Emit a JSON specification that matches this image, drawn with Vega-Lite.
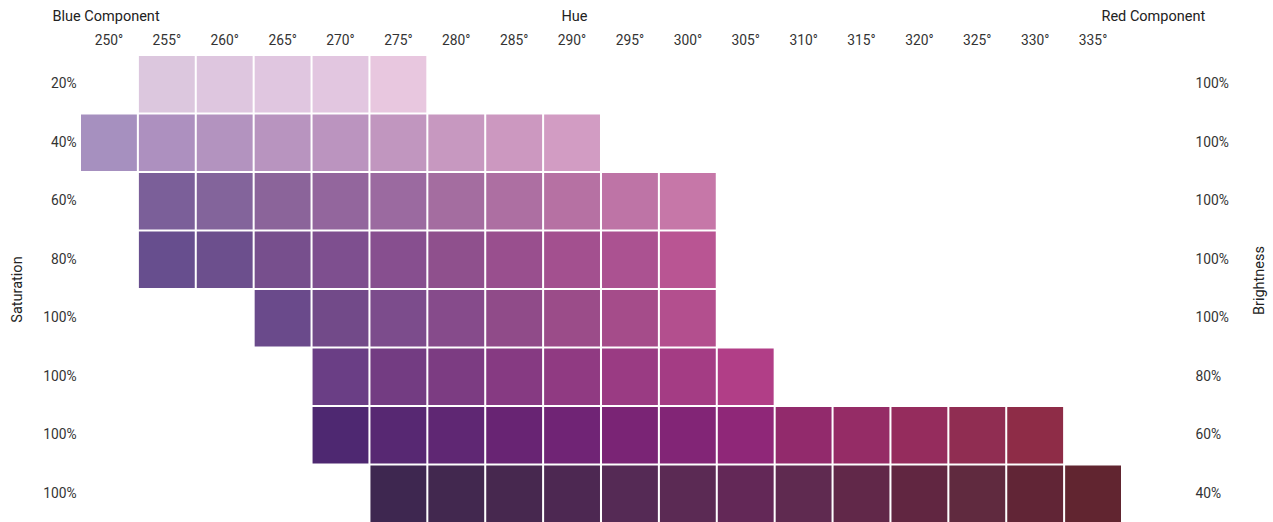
{
  "$schema": "https://vega.github.io/schema/vega-lite/v6.json",
  "width": 1040,
  "height": 466,
  "autosize": {"type": "none"},
  "padding": {"left": 81, "top": 56, "right": 152, "bottom": 0},
  "background": "white",
  "config": {
    "font": "Roboto",
    "view": {"stroke": null},
    "axis": {
      "ticks": false, "domain": false, "grid": false,
      "labelFont": "Roboto", "labelFontSize": 13.8, "labelColor": "#333333",
      "titleFont": "Roboto", "titleFontSize": 14.5, "titleFontWeight": "normal", "titleColor": "#222222"
    }
  },
  "data": {"values": [
    {"hue": 255, "row": "20% / 100%", "color": "#dcc7de"},
    {"hue": 260, "row": "20% / 100%", "color": "#dec6df"},
    {"hue": 265, "row": "20% / 100%", "color": "#e0c6e0"},
    {"hue": 270, "row": "20% / 100%", "color": "#e2c6e0"},
    {"hue": 275, "row": "20% / 100%", "color": "#e8c7df"},

    {"hue": 250, "row": "40% / 100%", "color": "#a690bf"},
    {"hue": 255, "row": "40% / 100%", "color": "#ad90bf"},
    {"hue": 260, "row": "40% / 100%", "color": "#b393bf"},
    {"hue": 265, "row": "40% / 100%", "color": "#b894bf"},
    {"hue": 270, "row": "40% / 100%", "color": "#bb94bf"},
    {"hue": 275, "row": "40% / 100%", "color": "#c196bf"},
    {"hue": 280, "row": "40% / 100%", "color": "#c798c0"},
    {"hue": 285, "row": "40% / 100%", "color": "#cc98c0"},
    {"hue": 290, "row": "40% / 100%", "color": "#d29cc3"},

    {"hue": 255, "row": "60% / 100%", "color": "#7b5f99"},
    {"hue": 260, "row": "60% / 100%", "color": "#83649b"},
    {"hue": 265, "row": "60% / 100%", "color": "#8b649a"},
    {"hue": 270, "row": "60% / 100%", "color": "#93669d"},
    {"hue": 275, "row": "60% / 100%", "color": "#9b6aa0"},
    {"hue": 280, "row": "60% / 100%", "color": "#a46da0"},
    {"hue": 285, "row": "60% / 100%", "color": "#ad6fa2"},
    {"hue": 290, "row": "60% / 100%", "color": "#b671a3"},
    {"hue": 295, "row": "60% / 100%", "color": "#be74a6"},
    {"hue": 300, "row": "60% / 100%", "color": "#c677a8"},

    {"hue": 255, "row": "80% / 100%", "color": "#674e8e"},
    {"hue": 260, "row": "80% / 100%", "color": "#6c4f8d"},
    {"hue": 265, "row": "80% / 100%", "color": "#774f8d"},
    {"hue": 270, "row": "80% / 100%", "color": "#7e4f8f"},
    {"hue": 275, "row": "80% / 100%", "color": "#874f8f"},
    {"hue": 280, "row": "80% / 100%", "color": "#8f508d"},
    {"hue": 285, "row": "80% / 100%", "color": "#994f8e"},
    {"hue": 290, "row": "80% / 100%", "color": "#a3508f"},
    {"hue": 295, "row": "80% / 100%", "color": "#ab5291"},
    {"hue": 300, "row": "80% / 100%", "color": "#b95593"},

    {"hue": 265, "row": "100% / 100%", "color": "#6a4a8b"},
    {"hue": 270, "row": "100% / 100%", "color": "#724a89"},
    {"hue": 275, "row": "100% / 100%", "color": "#7c4c8c"},
    {"hue": 280, "row": "100% / 100%", "color": "#864b8b"},
    {"hue": 285, "row": "100% / 100%", "color": "#904b89"},
    {"hue": 290, "row": "100% / 100%", "color": "#9b4c89"},
    {"hue": 295, "row": "100% / 100%", "color": "#a54c8a"},
    {"hue": 300, "row": "100% / 100%", "color": "#b34f8e"},

    {"hue": 270, "row": "100% / 80%", "color": "#6a3e85"},
    {"hue": 275, "row": "100% / 80%", "color": "#733c82"},
    {"hue": 280, "row": "100% / 80%", "color": "#7c3c82"},
    {"hue": 285, "row": "100% / 80%", "color": "#863a82"},
    {"hue": 290, "row": "100% / 80%", "color": "#903a82"},
    {"hue": 295, "row": "100% / 80%", "color": "#9a3b83"},
    {"hue": 300, "row": "100% / 80%", "color": "#a43c84"},
    {"hue": 305, "row": "100% / 80%", "color": "#b13e87"},

    {"hue": 270, "row": "100% / 60%", "color": "#4e2871"},
    {"hue": 275, "row": "100% / 60%", "color": "#572872"},
    {"hue": 280, "row": "100% / 60%", "color": "#5f2773"},
    {"hue": 285, "row": "100% / 60%", "color": "#682473"},
    {"hue": 290, "row": "100% / 60%", "color": "#702475"},
    {"hue": 295, "row": "100% / 60%", "color": "#7a2475"},
    {"hue": 300, "row": "100% / 60%", "color": "#822576"},
    {"hue": 305, "row": "100% / 60%", "color": "#8f2778"},
    {"hue": 310, "row": "100% / 60%", "color": "#922a6c"},
    {"hue": 315, "row": "100% / 60%", "color": "#952c66"},
    {"hue": 320, "row": "100% / 60%", "color": "#952c5d"},
    {"hue": 325, "row": "100% / 60%", "color": "#902d52"},
    {"hue": 330, "row": "100% / 60%", "color": "#8e2c47"},

    {"hue": 275, "row": "100% / 40%", "color": "#3e2750"},
    {"hue": 280, "row": "100% / 40%", "color": "#42284f"},
    {"hue": 285, "row": "100% / 40%", "color": "#47284f"},
    {"hue": 290, "row": "100% / 40%", "color": "#4d2852"},
    {"hue": 295, "row": "100% / 40%", "color": "#552a55"},
    {"hue": 300, "row": "100% / 40%", "color": "#5b2a54"},
    {"hue": 305, "row": "100% / 40%", "color": "#632857"},
    {"hue": 310, "row": "100% / 40%", "color": "#5f2a50"},
    {"hue": 315, "row": "100% / 40%", "color": "#612849"},
    {"hue": 320, "row": "100% / 40%", "color": "#612641"},
    {"hue": 325, "row": "100% / 40%", "color": "#602a3f"},
    {"hue": 330, "row": "100% / 40%", "color": "#612536"},
    {"hue": 335, "row": "100% / 40%", "color": "#612530"}
  ]},
  "layer": [
    {
      "mark": {"type": "rect"},
      "encoding": {
        "x": {
          "field": "hue", "type": "ordinal",
          "scale": {"domain": [250, 255, 260, 265, 270, 275, 280, 285, 290, 295, 300, 305, 310, 315, 320, 325, 330, 335], "paddingInner": 0.035, "paddingOuter": 0},
          "axis": {"orient": "top", "title": "Hue", "labelExpr": "datum.value + '°'", "labelAngle": 0, "labelPadding": 9, "titleX": 493, "titleY": -40, "titleBaseline": "middle", "titleAlign": "center"}
        },
        "y": {
          "field": "row", "type": "ordinal",
          "scale": {"domain": ["20% / 100%", "40% / 100%", "60% / 100%", "80% / 100%", "100% / 100%", "100% / 80%", "100% / 60%", "100% / 40%"], "paddingInner": 0.035, "paddingOuter": 0},
          "axis": {"orient": "left", "title": "Saturation", "labelExpr": "split(datum.value, ' / ')[0]", "labelPadding": 5, "titleX": -64, "titleY": 233, "titleAngle": -90, "titleBaseline": "middle", "titleAlign": "center"}
        },
        "color": {"field": "color", "type": "nominal", "scale": null, "legend": null}
      }
    },
    {
      "mark": {"type": "rect", "opacity": 0},
      "encoding": {
        "x": {
          "field": "hue", "type": "ordinal",
          "axis": {"orient": "top", "title": "Blue Component", "labels": false, "titleX": -29, "titleY": -40, "titleAlign": "left", "titleBaseline": "middle"}
        },
        "y": {
          "field": "row", "type": "ordinal",
          "axis": {"orient": "right", "title": "Brightness", "labelExpr": "split(datum.value, ' / ')[1]", "labelPadding": 74, "labelAlign": "left", "titleX": 138, "titleY": 224, "titleAngle": -90, "titleBaseline": "middle", "titleAlign": "center"}
        }
      }
    },
    {
      "mark": {"type": "rect", "opacity": 0},
      "encoding": {
        "x": {
          "field": "hue", "type": "ordinal",
          "axis": {"orient": "top", "title": "Red Component", "labels": false, "titleX": 1020, "titleY": -40, "titleAlign": "left", "titleBaseline": "middle"}
        },
        "y": {"field": "row", "type": "ordinal", "axis": null}
      }
    }
  ],
  "resolve": {"axis": {"x": "independent", "y": "independent"}}
}
